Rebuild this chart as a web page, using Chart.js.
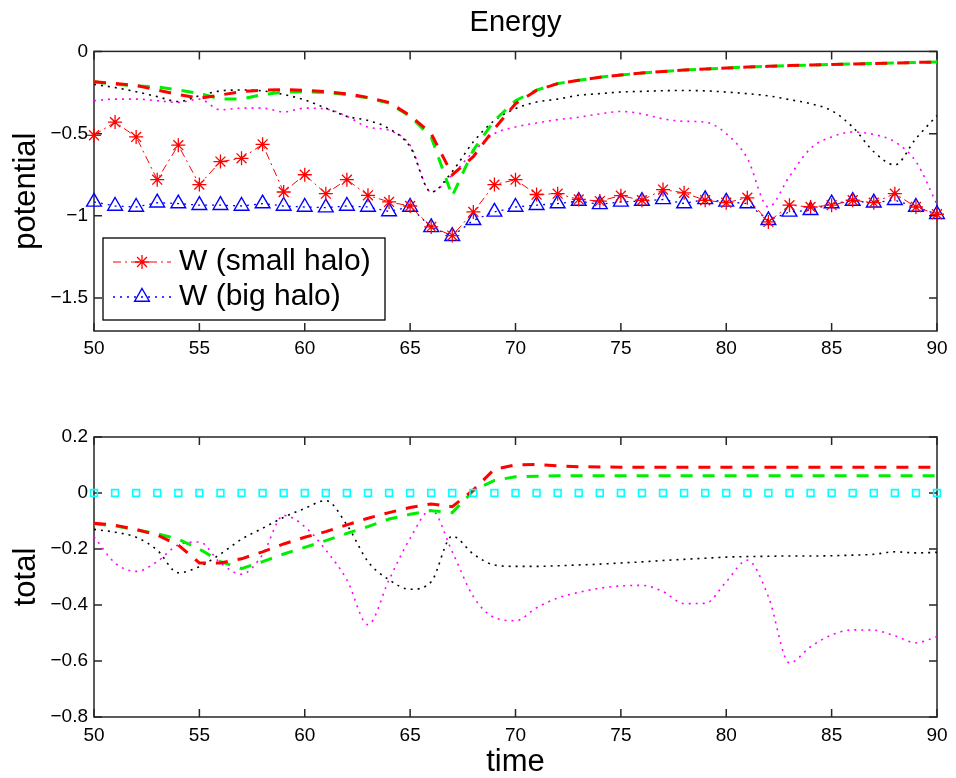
<!DOCTYPE html>
<html lang="en">
<head>
<meta charset="utf-8">
<title>Energy</title>
<script src="https://cdn.jsdelivr.net/npm/chart.js@4.4.1/dist/chart.umd.min.js"></script>
<style>
    html, body { margin: 0; padding: 0; background: #fff; }
    #pagina { position: relative; width: 956px; height: 778px; }
    canvas { position: absolute; left: 0; }
    #chartPotencial { top: 0; }
    #chartTotal { top: 380px; }
</style>
</head>
<body>
<div id="pagina">
    <canvas id="chartPotencial" width="956" height="380"></canvas>
    <canvas id="chartTotal" width="956" height="398"></canvas>
</div>
<script>
// Eixos
const tempo = [50, 51, 52, 53, 54, 55, 56, 57, 58, 59, 60, 61, 62, 63, 64, 65, 66, 67, 68, 69,
    70, 71, 72, 73, 74, 75, 76, 77, 78, 79, 80, 81, 82, 83, 84, 85, 86, 87, 88, 89, 90];
const ticksTempo = [50, 55, 60, 65, 70, 75, 80, 85, 90];
const ticksPotencial = [-1.5, -1, -0.5, 0];
const ticksTotal = [-0.8, -0.6, -0.4, -0.2, 0, 0.2];

// Potencial (gráfico de cima)
const potVermelho = [-0.185, -0.195, -0.207, -0.235, -0.262, -0.285, -0.265, -0.245, -0.235, -0.232,
    -0.236, -0.245, -0.258, -0.28, -0.31, -0.39, -0.5, -0.75, -0.64, -0.47,
    -0.318, -0.237, -0.196, -0.176, -0.157, -0.143, -0.132, -0.122, -0.113, -0.107,
    -0.101, -0.095, -0.091, -0.086, -0.083, -0.079, -0.077, -0.073, -0.071, -0.067, -0.065];
const potVerde = [-0.185, -0.2, -0.21, -0.215, -0.235, -0.255, -0.29, -0.29, -0.262, -0.248,
    -0.245, -0.25, -0.262, -0.283, -0.315, -0.395, -0.52, -0.88, -0.6, -0.42,
    -0.3, -0.235, -0.196, -0.176, -0.157, -0.143, -0.132, -0.122, -0.113, -0.107,
    -0.101, -0.095, -0.091, -0.086, -0.083, -0.079, -0.077, -0.073, -0.071, -0.067, -0.065];
const potPreto = [-0.2, -0.22, -0.245, -0.275, -0.305, -0.27, -0.24, -0.235, -0.24, -0.262,
    -0.295, -0.345, -0.395, -0.42, -0.47, -0.58, -0.855, -0.73, -0.55, -0.42,
    -0.348, -0.308, -0.29, -0.267, -0.257, -0.247, -0.243, -0.239, -0.238, -0.24,
    -0.247, -0.257, -0.27, -0.293, -0.318, -0.36, -0.46, -0.61, -0.69, -0.53, -0.39];
const potMagenta = [-0.3, -0.29, -0.29, -0.3, -0.31, -0.29, -0.355, -0.345, -0.345, -0.368,
    -0.345, -0.35, -0.395, -0.46, -0.48, -0.57, -0.855, -0.75, -0.61, -0.5,
    -0.46, -0.435, -0.415, -0.4, -0.38, -0.365, -0.38, -0.41, -0.425, -0.43,
    -0.5, -0.65, -0.946, -0.76, -0.59, -0.52, -0.49, -0.505, -0.55, -0.67, -0.93];
const wPequeno = [-0.51, -0.43, -0.52, -0.78, -0.57, -0.81, -0.67, -0.65, -0.565, -0.855,
    -0.75, -0.865, -0.78, -0.875, -0.915, -0.94, -1.067, -1.12, -0.976, -0.81,
    -0.78, -0.87, -0.865, -0.9, -0.91, -0.877, -0.905, -0.84, -0.86, -0.905,
    -0.92, -0.89, -1.037, -0.935, -0.946, -0.935, -0.905, -0.92, -0.865, -0.946, -0.99];
const wGrande = [-0.915, -0.94, -0.946, -0.92, -0.925, -0.935, -0.935, -0.94, -0.925, -0.94,
    -0.946, -0.95, -0.94, -0.946, -0.973, -0.946, -1.07, -1.124, -1.027, -0.976,
    -0.946, -0.935, -0.925, -0.91, -0.93, -0.915, -0.91, -0.9, -0.925, -0.9,
    -0.915, -0.925, -1.027, -0.976, -0.966, -0.925, -0.91, -0.92, -0.905, -0.946, -0.99];

// Total (gráfico de baixo)
const totVermelho = [-0.108, -0.115, -0.13, -0.15, -0.186, -0.25, -0.25, -0.235, -0.21, -0.182,
    -0.158, -0.138, -0.114, -0.09, -0.07, -0.052, -0.039, -0.049, 0.011, 0.085,
    0.1, 0.102, 0.097, 0.094, 0.093, 0.092, 0.092, 0.092, 0.092, 0.092,
    0.092, 0.092, 0.092, 0.092, 0.092, 0.092, 0.092, 0.092, 0.092, 0.092, 0.092];
const totVerde = [-0.11, -0.117, -0.132, -0.145, -0.165, -0.2, -0.245, -0.27, -0.245, -0.218,
    -0.194, -0.17, -0.144, -0.12, -0.093, -0.076, -0.063, -0.07, 0.008, 0.045,
    0.058, 0.06, 0.062, 0.062, 0.062, 0.062, 0.062, 0.062, 0.062, 0.062,
    0.062, 0.062, 0.062, 0.062, 0.062, 0.062, 0.062, 0.062, 0.062, 0.062, 0.062];
const totPreto = [-0.13, -0.14, -0.158, -0.204, -0.285, -0.263, -0.218, -0.165, -0.126, -0.087,
    -0.055, -0.027, -0.114, -0.245, -0.31, -0.344, -0.317, -0.154, -0.218, -0.257,
    -0.262, -0.262, -0.26, -0.257, -0.254, -0.25, -0.246, -0.241, -0.237, -0.233,
    -0.229, -0.227, -0.226, -0.225, -0.225, -0.224, -0.222, -0.219, -0.21, -0.214, -0.212];
const totMagenta = [-0.156, -0.25, -0.28, -0.245, -0.185, -0.175, -0.25, -0.29, -0.22, -0.08,
    -0.12, -0.204, -0.31, -0.47, -0.31, -0.162, -0.06, -0.21, -0.37, -0.445,
    -0.456, -0.41, -0.375, -0.355, -0.34, -0.332, -0.33, -0.352, -0.395, -0.394,
    -0.317, -0.24, -0.37, -0.607, -0.549, -0.507, -0.489, -0.49, -0.51, -0.535, -0.513];
const totCiano = [0, 0, 0, 0, 0, 0, 0, 0, 0, 0, 0, 0, 0, 0, 0, 0, 0, 0, 0, 0,
    0, 0, 0, 0, 0, 0, 0, 0, 0, 0, 0, 0, 0, 0, 0, 0, 0, 0, 0, 0, 0];

const FONTE = "'Liberation Sans', Arial, Helvetica, sans-serif";
Chart.defaults.font.family = FONTE;
Chart.defaults.color = '#000';

function pontos(valores) {
    return tempo.map((t, i) => ({ x: t, y: valores[i] }));
}

function formatar(v) {
    return (v < 0 ? '\u2212' : '') + Math.abs(v);
}

// Linhas
function tracejada(label, cor, valores) {
    return { label, data: pontos(valores), borderColor: cor, borderWidth: 3,
        borderDash: [12, 10], pointRadius: 0, tension: 0, fill: false };
}

function pontilhada(label, cor, valores) {
    return { label, data: pontos(valores), borderColor: cor, borderWidth: 1.6,
        borderDash: [2, 5], pointRadius: 0, cubicInterpolationMode: 'monotone', fill: false };
}

// Moldura e marcas internas (estilo MATLAB)
const molduraEixos = {
    id: 'molduraEixos',
    beforeDatasetsDraw(chart) {
        const { ctx, chartArea: a, scales } = chart;
        ctx.save();
        ctx.strokeStyle = '#262626';
        ctx.lineWidth = 1.5;
        ctx.strokeRect(a.left, a.top, a.right - a.left, a.bottom - a.top);
        ctx.beginPath();
        scales.x.ticks.forEach(t => {
            const px = scales.x.getPixelForValue(t.value);
            ctx.moveTo(px, a.bottom); ctx.lineTo(px, a.bottom - 8);
            ctx.moveTo(px, a.top); ctx.lineTo(px, a.top + 8);
        });
        scales.y.ticks.forEach(t => {
            const py = scales.y.getPixelForValue(t.value);
            ctx.moveTo(a.left, py); ctx.lineTo(a.left + 8, py);
            ctx.moveTo(a.right, py); ctx.lineTo(a.right - 8, py);
        });
        ctx.stroke();
        ctx.restore();
    }
};

// Legenda com caixa
const legendaCaixa = {
    id: 'legendaCaixa',
    afterDatasetsDraw(chart, args, opts) {
        const ctx = chart.ctx;
        const itens = chart.data.datasets.filter(d => d.naLegenda);
        ctx.save();
        ctx.fillStyle = '#fff';
        ctx.fillRect(opts.x, opts.y, opts.largura, opts.altura);
        ctx.strokeStyle = '#000';
        ctx.lineWidth = 1.3;
        ctx.strokeRect(opts.x, opts.y, opts.largura, opts.altura);
        itens.forEach((d, i) => {
            const y = opts.y + opts.primeiraLinha + i * opts.espaco;
            const x1 = opts.x + opts.amostraInicio;
            const x2 = x1 + opts.amostraLargura;
            ctx.strokeStyle = d.borderColor;
            ctx.lineWidth = d.borderWidth;
            ctx.setLineDash(d.borderDash || []);
            ctx.beginPath();
            ctx.moveTo(x1, y);
            ctx.lineTo(x2, y);
            ctx.stroke();
            ctx.setLineDash([]);
            ctx.strokeStyle = d.pointBorderColor;
            ctx.fillStyle = 'rgba(0,0,0,0)';
            ctx.lineWidth = d.pointBorderWidth;
            Chart.helpers.drawPoint(ctx, { pointStyle: d.pointStyle, radius: d.pointRadius,
                borderWidth: d.pointBorderWidth, rotation: 0 }, (x1 + x2) / 2, y);
            ctx.fillStyle = '#000';
            ctx.font = opts.tamanhoFonte + 'px ' + FONTE;
            ctx.textAlign = 'left';
            ctx.textBaseline = 'middle';
            ctx.fillText(d.label, opts.x + opts.textoInicio, y);
        });
        ctx.restore();
    }
};

function escalas(ticksY, minY, maxY, tituloY, tituloX, alturaX, padX) {
    return {
        x: {
            type: 'linear', min: 50, max: 90,
            grid: { display: false, drawTicks: false }, border: { display: false },
            afterBuildTicks: s => { s.ticks = ticksTempo.map(v => ({ value: v })); },
            afterFit: s => { s.height = alturaX; },
            ticks: { padding: padX, font: { size: 19 }, maxRotation: 0, autoSkip: false, callback: formatar },
            title: { display: !!tituloX, text: tituloX, font: { size: 31, lineHeight: 1 }, padding: { top: 0, bottom: 0 } }
        },
        y: {
            type: 'linear', min: minY, max: maxY,
            grid: { display: false, drawTicks: false }, border: { display: false },
            afterBuildTicks: s => { s.ticks = ticksY.map(v => ({ value: v })); },
            afterFit: s => { s.width = 94; },
            ticks: { padding: 6, font: { size: 19 }, callback: formatar },
            title: { display: true, text: tituloY, font: { size: 31, lineHeight: 1 }, padding: { top: 11, bottom: 0 } }
        }
    };
}

// Criar gráfico de potencial
function criarGraficoPotencial() {
    const ctx = document.getElementById('chartPotencial');
    new Chart(ctx, {
        type: 'line',
        data: {
            datasets: [
                { label: 'W (small halo)', naLegenda: true, data: pontos(wPequeno),
                  borderColor: '#ff0000', borderWidth: 1, borderDash: [8, 4, 2, 4], tension: 0,
                  pointStyle: 'star', pointRadius: 7, pointBorderColor: '#ff0000', pointBorderWidth: 1.3,
                  pointBackgroundColor: 'rgba(0,0,0,0)', clip: false },
                { label: 'W (big halo)', naLegenda: true, data: pontos(wGrande),
                  borderColor: '#0000ff', borderWidth: 1.3, borderDash: [2, 5], tension: 0,
                  pointStyle: 'triangle', pointRadius: 8.5, pointBorderColor: '#0000ff', pointBorderWidth: 1.4,
                  pointBackgroundColor: 'rgba(0,0,0,0)', clip: false },
                tracejada('potential (small halo)', '#ff0000', potVermelho),
                tracejada('potential (big halo)', '#00ee00', potVerde),
                pontilhada('potential (small halo, dotted)', '#000000', potPreto),
                pontilhada('potential (big halo, dotted)', '#ff00ff', potMagenta)
            ]
        },
        options: {
            responsive: false,
            animation: false,
            events: [],
            layout: { padding: { top: 0, left: 0, right: 19, bottom: 0 } },
            scales: escalas(ticksPotencial, -1.7, 0, 'potential', '', 49, 6),
            plugins: {
                legend: { display: false },
                tooltip: { enabled: false },
                title: { display: true, text: 'Energy', fullSize: false, color: '#000',
                    font: { size: 29, weight: 'normal', lineHeight: 1.2 }, padding: { top: 6, bottom: 10.6 } },
                legendaCaixa: { x: 103, y: 238, largura: 282, altura: 82, primeiraLinha: 24, espaco: 35,
                    amostraInicio: 10, amostraLargura: 58, textoInicio: 76, tamanhoFonte: 30 }
            }
        },
        plugins: [molduraEixos, legendaCaixa]
    });
}

// Criar gráfico de total
function criarGraficoTotal() {
    const ctx = document.getElementById('chartTotal');
    new Chart(ctx, {
        type: 'line',
        data: {
            datasets: [
                { label: 'total zero', data: pontos(totCiano), showLine: false,
                  borderColor: '#00ffff', pointStyle: 'rect', pointRadius: 4.8,
                  pointBorderColor: '#00ffff', pointBorderWidth: 1.6,
                  pointBackgroundColor: 'rgba(0,0,0,0)', clip: false },
                tracejada('total (small halo)', '#ff0000', totVermelho),
                tracejada('total (big halo)', '#00ee00', totVerde),
                pontilhada('total (small halo, dotted)', '#000000', totPreto),
                pontilhada('total (big halo, dotted)', '#ff00ff', totMagenta)
            ]
        },
        options: {
            responsive: false,
            animation: false,
            events: [],
            layout: { padding: { top: 57, left: 0, right: 19, bottom: 0 } },
            scales: escalas(ticksTotal, -0.8, 0.2, 'total', 'time', 61, 7),
            plugins: {
                legend: { display: false },
                tooltip: { enabled: false }
            }
        },
        plugins: [molduraEixos]
    });
}

// Inicialização
criarGraficoPotencial();
criarGraficoTotal();
</script>
</body>
</html>
